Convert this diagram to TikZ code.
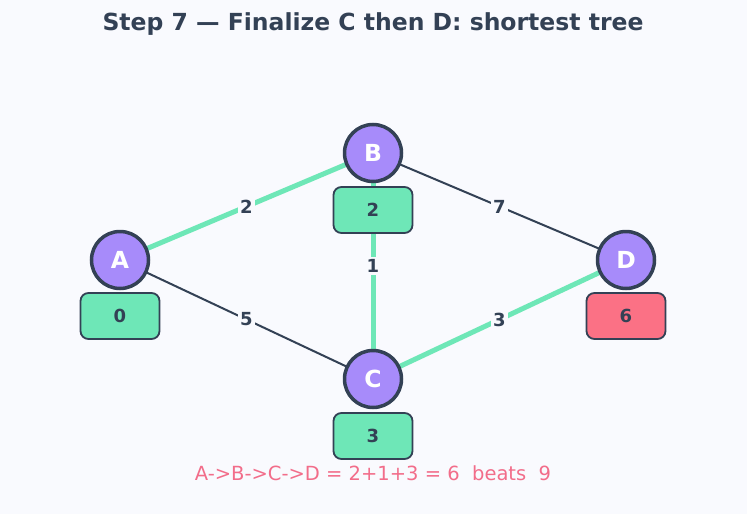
\documentclass[tikz,border=0pt]{standalone}
\usepackage{fontspec}
\setmainfont{DejaVu Sans}
\definecolor{bg}{HTML}{F9FAFE}
\definecolor{ink}{HTML}{334155}
\definecolor{vert}{HTML}{A78BFA}
\definecolor{green}{HTML}{6EE7B7}
\definecolor{redbox}{HTML}{FB7185}
\definecolor{pink}{HTML}{F26D8A}
\begin{document}
\begin{tikzpicture}[x=1pt,y=-1pt,
  vtx/.style={circle,draw=ink,line width=3.5pt,fill=vert,minimum size=57pt,inner sep=0pt,text=white,font=\fontsize{23.5}{27}\selectfont\bfseries},
  distbox/.style={rounded corners=8pt,draw=ink,line width=1.8pt,fill=green,minimum width=79pt,minimum height=46pt,inner sep=0pt,text=ink,font=\fontsize{18}{21}\selectfont\bfseries},
  tree/.style={green,line width=5pt},
  plain/.style={ink,line width=2pt},
  wlab/.style={fill=bg,inner sep=2.5pt,text=ink,font=\fontsize{18}{21}\selectfont\bfseries}]
\fill[bg] (0,0) rectangle (747,514);
\useasboundingbox (0,0) rectangle (747,514);
\node[text=ink,font=\fontsize{23.5}{27}\selectfont\bfseries] (title) at (373,24) {Step 7 — Finalize C then D: shortest tree};
\coordinate (pA) at (120,260);
\coordinate (pB) at (373,153);
\coordinate (pC) at (373,379);
\coordinate (pD) at (626,260);
\draw[tree] (pA) -- node[wlab] (lab) {2} (pB);
\draw[plain] (pB) -- node[wlab] (lbd) {7} (pD);
\draw[plain] (pA) -- node[wlab] (lac) {5} (pC);
\draw[tree] (pB) -- node[wlab] (lbc) {1} (pC);
\draw[tree] (pC) -- node[wlab] (lcd) {3} (pD);
\node[distbox] (dA) at (120,316) {0};
\node[distbox] (dB) at (373,210) {2};
\node[distbox] (dC) at (373,436) {3};
\node[distbox,fill=redbox] (dD) at (626,316) {6};
\node[vtx] (A) at (pA) {A};
\node[vtx] (B) at (pB) {B};
\node[vtx] (C) at (pC) {C};
\node[vtx] (D) at (pD) {D};
\node[text=pink,font=\fontsize{19.5}{23}\selectfont] (note) at (373,473) {A->B->C->D = 2+1+3 = 6\ \ beats\ \ 9};
\end{tikzpicture}
\end{document}
